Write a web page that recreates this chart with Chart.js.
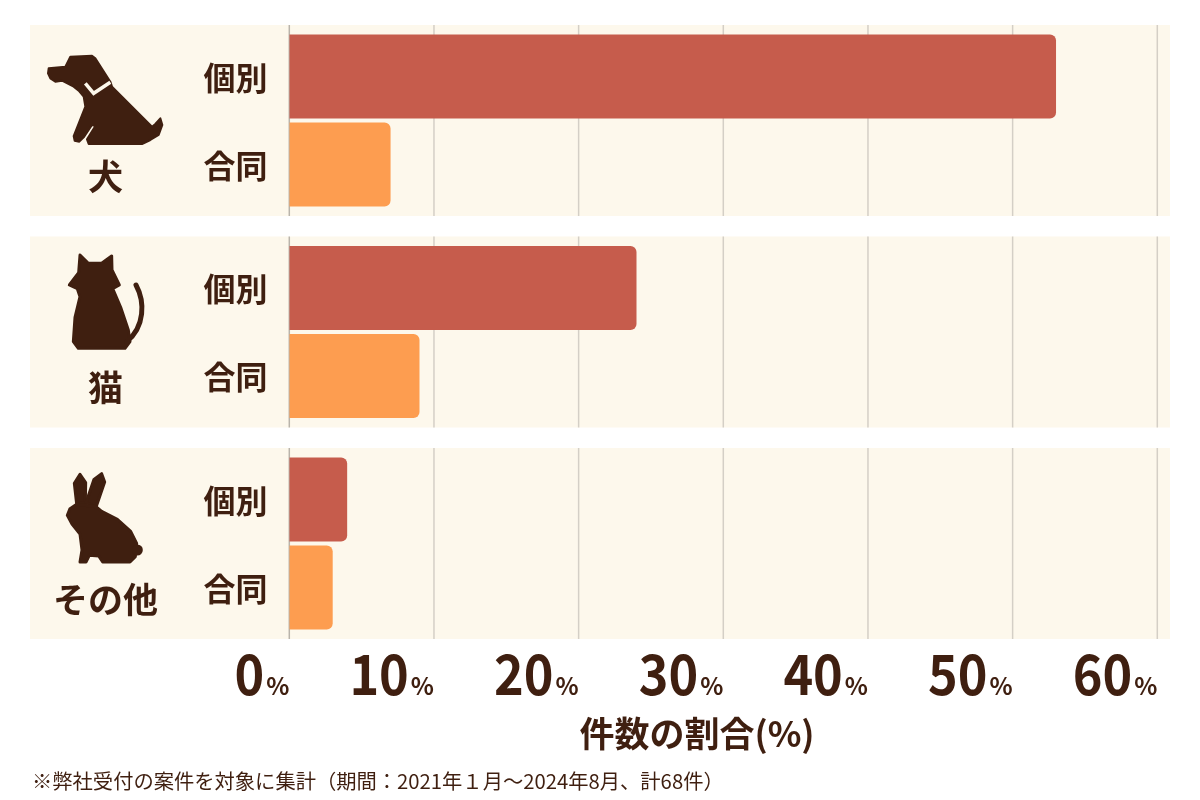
<!DOCTYPE html>
<html>
<head>
  <meta charset="utf-8">
  <title>件数の割合</title>
  <script src="https://cdn.jsdelivr.net/npm/chart.js"></script>
  <style>
    html, body { margin: 0; padding: 0; background: #ffffff; }
    .wrap { position: relative; width: 1200px; height: 800px; }
  </style>
</head>
<body>
  <div class="wrap">
    <canvas id="ratioChart"></canvas>
  </div>

  <script>
    // データ
    const categories = ['犬', '猫', 'その他'];
    const seriesNames = ['個別', '合同'];
    const kobetsuValues = [53, 24, 4];
    const godoValues = [7, 9, 3];
    const xTickValues = [0, 10, 20, 30, 40, 50, 60];
    const axisTitle = '件数の割合(%)';
    const footNote = '※弊社受付の案件を対象に集計（期間：2021年１月～2024年8月、計68件）';

    const ink = '#3f1f10';
    const panelColor = '#fdf8ec';
    const gridColor = '#d4cfc6';
    const jpFont = '"Noto Sans CJK JP", "Noto Sans", sans-serif';

    // アイコンの輪郭（3倍拡大座標）
    const dogShape = [[20,55],[70,50],[85,20],[150,17],[160,25],[205,95],[210,110],[330,230],[340,222],[355,205],
      [361,225],[350,255],[325,270],[300,282],[140,282],[135,268],[160,228],[150,225],[125,262],[112,275],
      [98,272],[95,258],[130,170],[125,140],[110,122],[95,110],[60,92],[40,95],[25,85],[18,70]];
    const dogCollar = [[130,100],[155,130],[205,97]];
    const catShape = [[150,75],[175,100],[215,100],[245,78],[246,120],[268,165],[248,176],[272,232],[295,300],
      [300,335],[285,355],[145,355],[130,335],[135,262],[150,200],[142,176],[118,165],[146,128]];
    const rabbitEars = [
      [[140,192],[133,130],[150,103],[167,128],[166,188]],
      [[168,188],[192,118],[215,101],[224,126],[198,202]]
    ];
    const rabbitBody = [[140,193],[198,200],[215,214],[262,238],[302,274],[320,310],[316,350],[300,366],[218,366],
      [206,348],[178,346],[168,366],[150,366],[156,330],[150,282],[126,252],[112,226],[120,206]];

    function polygon(ctx, pts, ox, oy) {
      ctx.beginPath();
      pts.forEach((p, i) => {
        const x = ox + p[0] / 3, y = oy + p[1] / 3;
        if (i === 0) ctx.moveTo(x, y); else ctx.lineTo(x, y);
      });
      ctx.closePath();
      ctx.fill();
      ctx.stroke();
    }

    function drawIcon(ctx, idx, c) {
      ctx.save();
      ctx.fillStyle = ink;
      ctx.strokeStyle = ink;
      ctx.lineWidth = 2;
      ctx.lineJoin = 'round';
      ctx.lineCap = 'round';
      if (idx === 0) {
        const oy = 50 + (c - 120.5);
        polygon(ctx, dogShape, 42, oy);
        ctx.strokeStyle = panelColor;
        ctx.lineWidth = 3.5;
        ctx.lineJoin = 'miter';
        ctx.lineCap = 'butt';
        ctx.beginPath();
        dogCollar.forEach((p, i) => {
          const x = 42 + p[0] / 3, y = oy + p[1] / 3;
          if (i === 0) ctx.moveTo(x, y); else ctx.lineTo(x, y);
        });
        ctx.stroke();
      } else if (idx === 1) {
        const oy = 230 + (c - 332);
        ctx.lineWidth = 3;
        polygon(ctx, catShape, 30, oy);
        ctx.lineWidth = 5;
        ctx.beginPath();
        ctx.moveTo(30 + 290 / 3, oy + 335 / 3);
        ctx.bezierCurveTo(30 + 345 / 3, oy + 290 / 3, 30 + 345 / 3, oy + 215 / 3, 30 + 318 / 3, oy + 165 / 3);
        ctx.stroke();
      } else {
        const oy = 440 + (c - 543.5);
        ctx.lineWidth = 3;
        rabbitEars.forEach(e => polygon(ctx, e, 30, oy));
        polygon(ctx, rabbitBody, 30, oy);
        ctx.beginPath();
        ctx.arc(30 + 322 / 3, oy + 330 / 3, 5.5, 0, Math.PI * 2);
        ctx.fill();
      }
      ctx.restore();
    }

    const decorPlugin = {
      id: 'decor',
      beforeDatasetsDraw(chart) {
        const ctx = chart.ctx;
        const x = chart.scales.x, y = chart.scales.y;
        const half = 95.5;
        ctx.save();
        categories.forEach((cat, i) => {
          const c = y.getPixelForValue(i);
          ctx.fillStyle = panelColor;
          ctx.fillRect(30, c - half, x.right + 12.7 - 30, half * 2);
          ctx.lineWidth = 1.5;
          xTickValues.forEach(t => {
            const px = x.getPixelForValue(t);
            ctx.strokeStyle = t === 0 ? '#b9b4ab' : gridColor;
            ctx.beginPath();
            ctx.moveTo(px, c - half);
            ctx.lineTo(px, c + half);
            ctx.stroke();
          });
        });
        ctx.restore();
      },
      afterDraw(chart) {
        const ctx = chart.ctx;
        const x = chart.scales.x, y = chart.scales.y;
        ctx.save();
        ctx.fillStyle = ink;

        // 個別 / 合同
        ctx.font = '700 32px ' + jpFont;
        ctx.textAlign = 'center';
        ctx.textBaseline = 'middle';
        chart.data.datasets.forEach((ds, di) => {
          chart.getDatasetMeta(di).data.forEach(bar => {
            ctx.fillText(seriesNames[di], 235.5, bar.y + 1);
          });
        });

        // 動物名とアイコン
        categories.forEach((cat, i) => {
          const c = y.getPixelForValue(i);
          ctx.font = '700 35px ' + jpFont;
          ctx.fillStyle = ink;
          ctx.textAlign = 'center';
          ctx.fillText(cat, 105.5, c + 56);
          drawIcon(ctx, i, c);
        });

        // 目盛りラベル
        ctx.fillStyle = ink;
        ctx.textBaseline = 'alphabetic';
        xTickValues.forEach(t => {
          const px = x.getPixelForValue(t);
          ctx.font = '700 24px ' + jpFont;
          ctx.textAlign = 'right';
          ctx.fillText('%', px, 695);
          const pw = ctx.measureText('%').width;
          ctx.save();
          ctx.translate(px - pw - 2, 695);
          ctx.scale(0.9, 1);
          ctx.font = '700 56px ' + jpFont;
          ctx.fillText(String(t), 0, 0);
          ctx.restore();
        });

        // 軸タイトル
        ctx.font = '700 35px ' + jpFont;
        ctx.textAlign = 'center';
        ctx.textBaseline = 'middle';
        ctx.fillText(axisTitle, 697, 734);

        // 注記
        ctx.font = '400 20.3px ' + jpFont;
        ctx.textAlign = 'left';
        ctx.fillText(footNote, 32, 781);
        ctx.restore();
      }
    };

    const ctx = document.getElementById('ratioChart').getContext('2d');
    const chart = new Chart(ctx, {
      type: 'bar',
      data: {
        labels: categories,
        datasets: [
          {
            label: seriesNames[0],
            data: kobetsuValues,
            backgroundColor: '#c65c4c',
            borderRadius: 6,
            borderSkipped: 'start',
            categoryPercentage: 0.832,
            barPercentage: 0.955
          },
          {
            label: seriesNames[1],
            data: godoValues,
            backgroundColor: '#fd9d50',
            borderRadius: 6,
            borderSkipped: 'start',
            categoryPercentage: 0.832,
            barPercentage: 0.955
          }
        ]
      },
      options: {
        indexAxis: 'y',
        responsive: true,
        maintainAspectRatio: false,
        animation: false,
        layout: {
          padding: { left: 289.3, right: 42.7, top: 14.75, bottom: 150.75 }
        },
        plugins: {
          legend: { display: false },
          tooltip: { enabled: false }
        },
        scales: {
          x: { type: 'linear', min: 0, max: 60, display: false },
          y: { display: false }
        }
      },
      plugins: [decorPlugin]
    });
  </script>
</body>
</html>
